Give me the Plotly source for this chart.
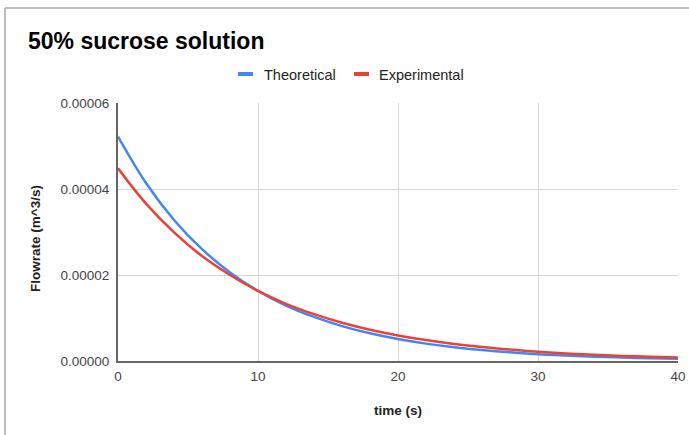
import plotly.graph_objects as go

time_s = [0, 2, 4, 6, 8, 10, 12, 14, 16, 18, 20, 22, 24, 26, 28, 30, 32, 34, 36, 38, 40]
theoretical = [5.22e-5, 4.14e-5, 3.28e-5, 2.60e-5, 2.06e-5, 1.63e-5, 1.29e-5, 1.025e-5,
               8.12e-6, 6.44e-6, 5.10e-6, 4.04e-6, 3.20e-6, 2.54e-6, 2.01e-6, 1.59e-6,
               1.26e-6, 1.00e-6, 7.9e-7, 6.3e-7, 5.0e-7]
experimental = [4.48e-5, 3.66e-5, 2.99e-5, 2.44e-5, 2.00e-5, 1.63e-5, 1.33e-5, 1.089e-5,
                8.90e-6, 7.27e-6, 5.94e-6, 4.86e-6, 3.97e-6, 3.24e-6, 2.65e-6, 2.16e-6,
                1.77e-6, 1.45e-6, 1.18e-6, 9.65e-7, 7.9e-7]
y_ticks = [0, 0.00002, 0.00004, 0.00006]
x_ticks = [0, 10, 20, 30, 40]
series_names = ["Theoretical", "Experimental"]
series_colors = ["#4285F4", "#EA4335"]

FONT = "Liberation Sans, Arial, sans-serif"

L, R, T, B = 118, 11, 103, 74
W, H = 689, 435
pw, ph = W - L - R, H - T - B


def px(x):
    return (x - L) / pw


def py(y):
    return (H - B - y) / ph


fig = go.Figure()
for name, vals, col in zip(series_names, [theoretical, experimental], series_colors):
    fig.add_trace(go.Scatter(x=time_s, y=vals, mode="lines", name=name, showlegend=False,
                             line=dict(color=col, width=2.5, shape="spline")))

fig.update_layout(
    width=W, height=H,
    margin=dict(l=L, r=R, t=T, b=B, autoexpand=False),
    paper_bgcolor="white", plot_bgcolor="white",
    font=dict(family=FONT, color="#444444", size=13.5),
    title=dict(text="<b>50% sucrose solution</b>", x=28 / W, xref="container", xanchor="left",
               y=1 - 41 / H, yref="container", yanchor="middle",
               font=dict(size=23, color="#000000", family=FONT)),
    showlegend=False,
    xaxis=dict(range=[0, 40], tickvals=x_ticks, showgrid=True, gridcolor="#d6d6d6",
               gridwidth=1, showline=True, linecolor="#666666", linewidth=2, zeroline=False,
               ticks="outside", ticklen=2, tickcolor="rgba(0,0,0,0)", automargin=False,
               tickfont=dict(size=13.5, color="#444444")),
    yaxis=dict(range=[0, 0.00006], tickvals=y_ticks, tickformat=".5f", showgrid=True,
               gridcolor="#d6d6d6", gridwidth=1, showline=True, linecolor="#666666",
               linewidth=2, zeroline=False, ticks="outside", ticklen=4, automargin=False,
               tickcolor="rgba(0,0,0,0)", tickfont=dict(size=13.5, color="#444444")),
)

# axis titles
fig.add_annotation(text="<b>time (s)</b>", xref="paper", yref="paper", x=px(398), y=py(410),
                   showarrow=False, xanchor="center", yanchor="middle",
                   font=dict(size=13.5, color="#222222", family=FONT))
fig.add_annotation(text="<b>Flowrate (m^3/s)</b>", xref="paper", yref="paper", x=px(35),
                   y=py(239), textangle=-90, showarrow=False, xanchor="center",
                   yanchor="middle", font=dict(size=13.5, color="#222222", family=FONT))

# custom legend
legend_swatch_x = [238, 354]
legend_text_x = [262, 377]
for name, col, sx, tx in zip(series_names, series_colors, legend_swatch_x, legend_text_x):
    fig.add_shape(type="rect", xref="paper", yref="paper", x0=px(sx), x1=px(sx + 15),
                  y0=py(76), y1=py(72), fillcolor=col, line=dict(width=0))
    fig.add_annotation(text=name, xref="paper", yref="paper", x=px(tx), y=py(74.5),
                       showarrow=False, xanchor="left", yanchor="middle",
                       font=dict(size=14.5, color="#222222", family=FONT))

# spreadsheet sheet border
fig.add_shape(type="line", xref="paper", yref="paper", x0=px(5), x1=px(W), y0=py(8), y1=py(8),
              line=dict(color="#bdbdbd", width=2))
fig.add_shape(type="line", xref="paper", yref="paper", x0=px(5), x1=px(5), y0=py(8), y1=py(H),
              line=dict(color="#bdbdbd", width=2))

fig.write_html("out.html")
